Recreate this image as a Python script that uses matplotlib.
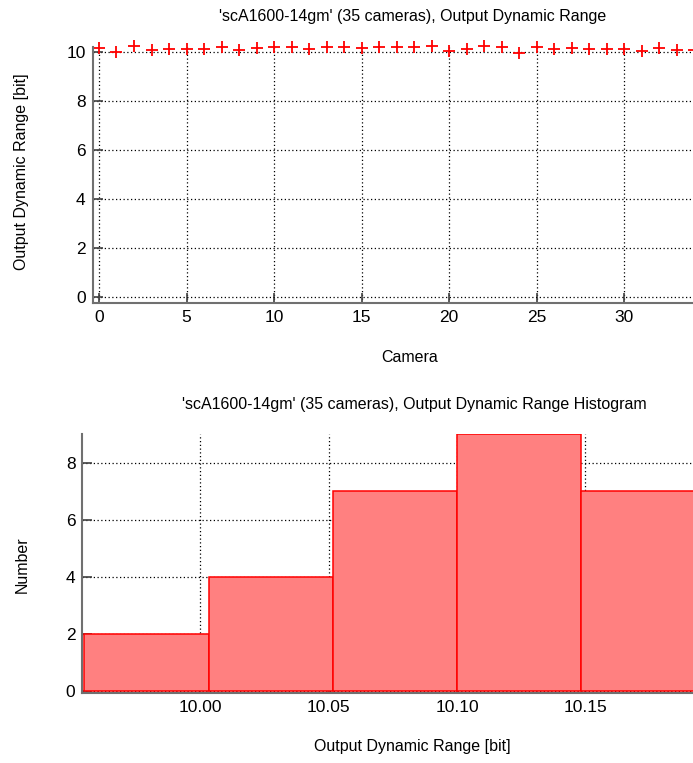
import matplotlib
matplotlib.use("Agg")
import matplotlib.pyplot as plt
import numpy as np

plt.rcParams['font.family'] = ['Liberation Sans', 'DejaVu Sans']

# ---- data ----
cameras = list(range(35))
dyn_range = [10.16, 9.99, 10.24, 10.06, 10.13, 10.13, 10.13, 10.19, 10.09, 10.15,
             10.18, 10.20, 10.11, 10.22, 10.22, 10.17, 10.22, 10.22, 10.19, 10.25,
             10.04, 10.12, 10.25, 10.20, 9.97, 10.22, 10.13, 10.15, 10.12, 10.11,
             10.11, 10.03, 10.15, 10.06, 10.09]
hist_edges = [9.9548, 10.0032, 10.0516, 10.1000, 10.1484, 10.1968]
hist_counts = [2, 4, 7, 9, 7]
top_title = "'scA1600-14gm' (35 cameras), Output Dynamic Range"
bot_title = "'scA1600-14gm' (35 cameras), Output Dynamic Range Histogram"

W, H = 693, 763
fig = plt.figure(figsize=(W / 100, H / 100), dpi=100)

spine_col = '#707070'
fs_tick = 12.5
fs_lab = 11.5

def style(ax):
    for s in ['top', 'right']:
        ax.spines[s].set_visible(False)
    for s in ['left', 'bottom']:
        ax.spines[s].set_color(spine_col)
        ax.spines[s].set_linewidth(1.5)
    ax.tick_params(direction='in', length=7, width=1.2, color='#404040',
                   labelsize=fs_tick, pad=5)
    ax.grid(True, linestyle=(0, (1, 2)), color='black', linewidth=0.9)
    ax.set_axisbelow(True)

# ---- top axes ----
ax1 = fig.add_axes([92.5 / W, 1 - 303 / H, (W - 92.5) / W, (303 - 47) / H])
style(ax1)
ax1.plot(cameras, dyn_range, linestyle='none', marker='+', color='red',
         markersize=9, markeredgewidth=1.3, clip_on=False)
ax1.set_xlim(-0.37, 33.92)
ax1.set_ylim(-0.26, 10.2)
ax1.set_xticks([0, 5, 10, 15, 20, 25, 30])
ax1.set_yticks([0, 2, 4, 6, 8, 10])
fig.text(410 / W, 1 - 357 / H, 'Camera', ha='center', va='center', fontsize=fs_lab)
fig.text(413 / W, 1 - 17 / H, top_title, ha='center', va='center', fontsize=fs_lab)
fig.text(22 / W, 1 - 172 / H, 'Output Dynamic Range [bit]', rotation=90,
         ha='center', va='center', fontsize=fs_lab)

# ---- bottom axes ----
ax2 = fig.add_axes([82.4 / W, 1 - 692.7 / H, (W - 82.4) / W, (692.7 - 434.3) / H])
style(ax2)
widths = np.diff(hist_edges)
ax2.bar(hist_edges[:-1], hist_counts, width=widths, align='edge',
        facecolor='#ff8080', edgecolor='red', linewidth=1.1, zorder=2)
ax2.set_xlim(9.954, 10.192)
ax2.set_ylim(-0.06, 9.0)
ax2.set_xticks([10.00, 10.05, 10.10, 10.15])
ax2.set_xticklabels(['10.00', '10.05', '10.10', '10.15'])
ax2.set_yticks([0, 2, 4, 6, 8])
fig.text(414 / W, 1 - 405 / H, bot_title, ha='center', va='center', fontsize=fs_lab)
fig.text(22 / W, 1 - 565 / H, 'Number', rotation=90,
         ha='center', va='center', fontsize=fs_lab)
fig.text(412 / W, 1 - 747 / H, 'Output Dynamic Range [bit]',
         ha='center', va='center', fontsize=fs_lab)

fig.savefig('out.png', dpi=100)
